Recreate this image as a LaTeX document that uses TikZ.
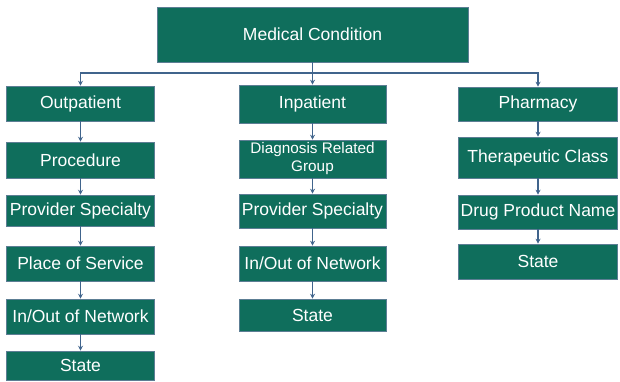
\documentclass[tikz,border=0pt]{standalone}
\usepackage{fontspec}
\setmainfont{Liberation Sans}
\usetikzlibrary{arrows.meta}
\definecolor{boxteal}{RGB}{15,110,92}
\definecolor{boxedge}{RGB}{92,126,148}
\definecolor{linkblue}{RGB}{64,100,140}
\begin{document}
\begin{tikzpicture}[x=1pt,y=-1pt,
		box/.style={draw=boxedge,line width=.6pt,fill=boxteal,text=white,inner sep=0pt,
			font=\fontsize{17.5}{20}\selectfont,align=center},
		link/.style={draw=linkblue,line width=1.3pt,-{Stealth[length=5pt,width=5pt]}}]
				\useasboundingbox (0,0) rectangle (620,381);
				\node [box,minimum width=311pt,minimum height=55pt] (cond) at (312.5,34.5) {Medical Condition};
				% outpatient column
				\node [box,minimum width=148pt,minimum height=35pt] (outp) at (80.5,103.5) {Outpatient};
				\node [box,minimum width=148pt,minimum height=36pt] (proc) at (80.5,160) {Procedure};
				\node [box,minimum width=148pt,minimum height=31pt] (provo) at (80.5,210.5) {Provider Specialty};
				\node [box,minimum width=148pt,minimum height=35pt] (place) at (80.5,263.5) {Place of Service};
				\node [box,minimum width=148pt,minimum height=35pt] (neto) at (80.5,316.5) {In/Out of Network};
				\node [box,minimum width=148pt,minimum height=29pt] (stateo) at (80.5,365.5) {State};
				% inpatient column
				\node [box,minimum width=147pt,minimum height=38pt] (inp) at (312.5,104) {Inpatient};
				\node [box,minimum width=147pt,minimum height=38pt,font=\fontsize{15.3}{18}\selectfont] (drg) at (312.5,159) {Diagnosis Related\\Group};
				\node [box,minimum width=147pt,minimum height=34pt] (provi) at (312.5,211) {Provider Specialty};
				\node [box,minimum width=147pt,minimum height=35pt] (neti) at (312.5,263.5) {In/Out of Network};
				\node [box,minimum width=147pt,minimum height=32pt] (statei) at (312.5,315) {State};
				% pharmacy column
				\node [box,minimum width=159pt,minimum height=34pt] (pharm) at (538,104) {Pharmacy};
				\node [box,minimum width=159pt,minimum height=41pt] (ther) at (538,157.5) {Therapeutic Class};
				\node [box,minimum width=159pt,minimum height=34pt] (drug) at (538,212) {Drug Product Name};
				\node [box,minimum width=159pt,minimum height=35pt] (statep) at (538,261.5) {State};
				\coordinate (bus) at (312.5,73);
				\draw [link] (cond) -- (inp);
				\draw [link] (bus) -| (outp);
				\draw [link] (bus) -| (pharm);
				\draw [link] (outp) -- (proc);
				\draw [link] (proc) -- (provo);
				\draw [link] (provo) -- (place);
				\draw [link] (place) -- (neto);
				\draw [link] (neto) -- (stateo);
				\draw [link] (inp) -- (drg);
				\draw [link] (drg) -- (provi);
				\draw [link] (provi) -- (neti);
				\draw [link] (neti) -- (statei);
				\draw [link] (pharm) -- (ther);
				\draw [link] (ther) -- (drug);
				\draw [link] (drug) -- (statep);
			\end{tikzpicture}
\end{document}
